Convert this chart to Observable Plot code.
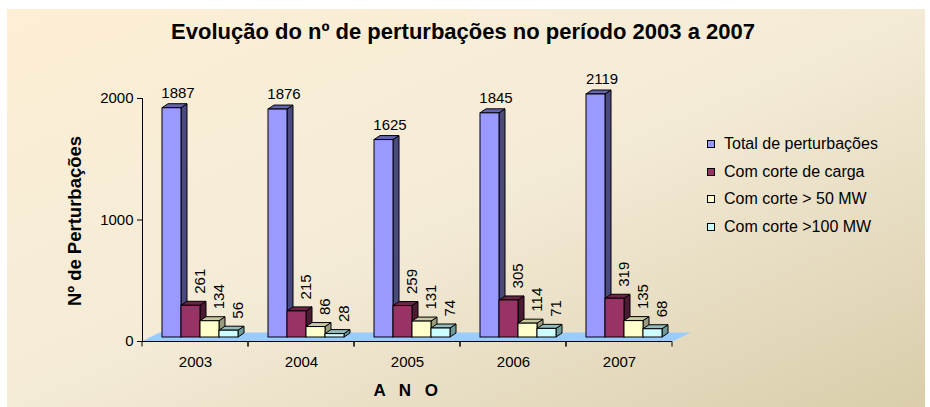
<!DOCTYPE html>
<html><head><meta charset="utf-8">
<script src="https://cdn.jsdelivr.net/npm/d3@7"></script>
<script src="https://cdn.jsdelivr.net/npm/@observablehq/plot@0.6"></script>
<style>
html,body{margin:0;padding:0;background:#fff;width:930px;height:407px;overflow:hidden;font-family:"Liberation Sans",Arial,sans-serif;color:#000;}
#panel{position:absolute;left:7px;top:9px;width:918px;height:398px;background:linear-gradient(to bottom right,#fdefd5 0%,#f4ebd7 50%,#d9cdaa 100%);}
#title{position:absolute;left:0;width:926px;top:20px;line-height:24px;text-align:center;font-weight:bold;font-size:22px;}
#chart{position:absolute;left:0;top:56px;}
#ylabel{position:absolute;left:75px;top:221px;transform:translate(-50%,-50%) rotate(-90deg);font-weight:bold;font-size:18.5px;white-space:nowrap;}
#xlabel{position:absolute;left:408px;top:391px;transform:translate(-50%,-50%);font-weight:bold;font-size:17px;letter-spacing:4.5px;white-space:nowrap;}
#legend{position:absolute;left:707px;top:0;font-size:16px;}
.row{position:absolute;left:0;display:flex;align-items:center;white-space:nowrap;transform:translateY(-50%);}
.sw{width:6px;height:6px;border:1px solid #000;margin-right:9px;}
</style>
</head><body>
<div id="panel"></div>
<div id="title">Evolução do nº de perturbações no período 2003 a 2007</div>
<div id="chart"></div>
<div id="ylabel">Nº de Perturbações</div>
<div id="xlabel">A N O</div>
<div id="legend"></div>
<script>
// ---- data ----
const years = ["2003", "2004", "2005", "2006", "2007"];
const series = ["Total de perturbações", "Com corte de carga", "Com corte > 50 MW", "Com corte >100 MW"];
const totalPerturbacoes = [1887, 1876, 1625, 1845, 2119];
const comCorteCarga = [261, 215, 259, 305, 319];
const comCorte50 = [134, 86, 131, 114, 135];
const comCorte100 = [56, 28, 74, 71, 68];
const yTicks = [0, 1000, 2000];

// ---- styles ----
const colors = ["#9999ff", "#993366", "#ffffcc", "#ccffff"];
const topColors = ["#6464b0", "#6b2447", "#c8c8a0", "#94bcbc"];
const sideColors = ["#4a4a80", "#4d1a33", "#9a9a7c", "#709999"];
const floorColor = "#99ccff";
const BAR_DEPTH = [6, -4];
const FLOOR_DEPTH = [18, -9];
const NS = "http://www.w3.org/2000/svg";

const valuesBySeries = [totalPerturbacoes, comCorteCarga, comCorte50, comCorte100];
const data = years.flatMap((year, i) =>
  series.map((s, j) => ({year, series: s, value: valuesBySeries[j][i]}))
);

function poly(points, fill, stroke) {
  const p = document.createElementNS(NS, "polygon");
  p.setAttribute("points", points.map(d => d.join(",")).join(" "));
  p.setAttribute("fill", fill);
  if (stroke) p.setAttribute("stroke", stroke);
  return p;
}

function bar3d(index, scales, values, dims, ctx, next) {
  const g = next(index, scales, values, dims, ctx);
  const [dx, dy] = BAR_DEPTH;
  g.querySelectorAll("rect").forEach(r => {
    const x = +r.getAttribute("x"), y = +r.getAttribute("y");
    const w = +r.getAttribute("width"), h = +r.getAttribute("height");
    const k = Math.max(0, colors.indexOf(r.getAttribute("fill")));
    const side = poly([[x + w, y], [x + w + dx, y + dy], [x + w + dx, y + h + dy], [x + w, y + h]], sideColors[k], "#000");
    const top = poly([[x, y], [x + dx, y + dy], [x + w + dx, y + dy], [x + w, y]], topColors[k], "#000");
    r.before(side, top);
  });
  return g;
}

function floorAxis(index, scales, values, dims, ctx, next) {
  const g = next(index, scales, values, dims, ctx);
  const [dx, dy] = FLOOR_DEPTH;
  g.querySelectorAll("line").forEach(l => {
    const x1 = +l.getAttribute("x1"), x2 = +l.getAttribute("x2"), y = +l.getAttribute("y1");
    const floor = poly([[x1 - 0.5, y], [x2 + 0.5, y], [x2 + 0.5 + dx, y + dy], [x1 - 0.5 + dx, y + dy]], floorColor, "none");
    l.before(floor);
    for (const x of [x1, x2]) {
      const t = document.createElementNS(NS, "line");
      t.setAttribute("x1", x); t.setAttribute("x2", x);
      t.setAttribute("y1", y); t.setAttribute("y2", y + 5);
      l.after(t);
    }
  });
  return g;
}

const chart = Plot.plot({
  width: 930,
  height: 351,
  marginLeft: 142,
  marginRight: 258,
  marginTop: 42,
  marginBottom: 66,
  style: {background: "transparent", fontFamily: "'Liberation Sans', Arial, sans-serif", fontSize: "15px", color: "#000", overflow: "visible"},
  fx: {domain: years, padding: 0, label: null, tickSize: 0, tickPadding: 15, axis: "bottom"},
  x: {domain: series, padding: 0, insetLeft: 14, insetRight: 16, axis: null},
  y: {domain: [0, 2000], ticks: yTicks, tickFormat: d => String(d), clamp: true, nice: false, label: null, tickSize: 5, tickPadding: 4, line: true},
  color: {domain: series, range: colors},
  marks: [
    Plot.ruleY([0], {stroke: "#000", render: floorAxis}),
    Plot.barY(data, {fx: "year", x: "series", y: "value", fill: "series", stroke: "#000", strokeWidth: 1, dx: BAR_DEPTH[0], dy: BAR_DEPTH[1], render: bar3d}),
    Plot.text(data.filter(d => d.series === series[0]), {
      fx: "year", x: "series", y: "value", text: d => String(d.value),
      textAnchor: "middle", lineAnchor: "middle", dx: 12, dy: -19, fill: "#000"
    }),
    Plot.text(data.filter(d => d.series !== series[0]), {
      fx: "year", x: "series", y: "value", text: d => String(d.value),
      rotate: -90, textAnchor: "start", lineAnchor: "middle", dx: 15.5, dy: -16, fill: "#000"
    })
  ]
});
document.getElementById("chart").appendChild(chart);

// legend from the same arrays
const legend = document.getElementById("legend");
series.forEach((s, i) => {
  const row = document.createElement("div");
  row.className = "row";
  row.style.top = (144 + i * 27.5) + "px";
  const sw = document.createElement("div");
  sw.className = "sw";
  sw.style.background = colors[i];
  const label = document.createElement("span");
  label.textContent = s;
  row.append(sw, label);
  legend.appendChild(row);
});
</script>
</body></html>
